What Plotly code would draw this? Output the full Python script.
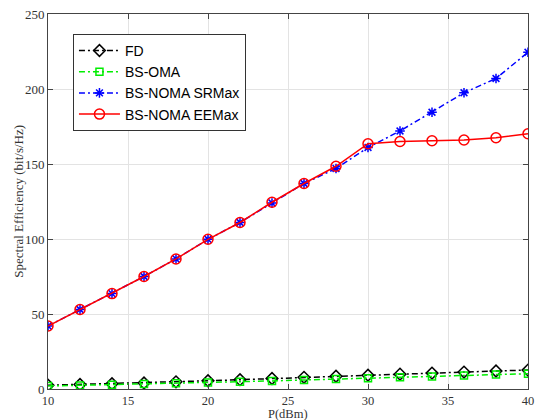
import plotly.graph_objects as go

p_dbm = [10, 12, 14, 16, 18, 20, 22, 24, 26, 28, 30, 32, 34, 36, 38, 40]
fd = [2.5, 3.0, 3.5, 4.0, 4.8, 5.5, 6.2, 7.0, 7.8, 8.5, 9.2, 9.9, 10.6, 11.3, 12.0, 12.6]
bs_oma = [2.0, 2.4, 2.8, 3.3, 3.8, 4.3, 4.9, 5.4, 6.0, 6.6, 7.2, 7.8, 8.4, 9.0, 9.6, 10.2]
srmax = [42, 53, 63.6, 75, 86.7, 99.8, 111, 124, 137, 147, 161, 172, 184.5, 197.5, 207, 224.5]
eemax = [42, 53, 63.6, 75, 86.7, 99.8, 111, 124.5, 137, 148.5, 163.5, 165, 165.5, 166, 167.5, 170.2]

x_title = "P(dBm)"
y_title = "Spectral Efficiency (bit/s/Hz)"

series = [
    ("FD", fd, "black", "6px,3px,2px,3px", "diamond-open", 9),
    ("BS-OMA", bs_oma, "#00ee00", "6px,3px,2px,3px", "square-open", 7),
    ("BS-NOMA SRMax", srmax, "blue", "6px,3px,2px,3px", "asterisk-open", 8),
    ("BS-NOMA EEMax", eemax, "red", "solid", "circle-open", 10),
]

fig = go.Figure()
for name, ys, color, dash, sym, size in series:
    fig.add_trace(go.Scatter(
        x=p_dbm, y=ys, name=name, mode="lines+markers",
        line=dict(color=color, dash=dash, width=1.5),
        marker=dict(symbol=sym, size=size, color=color,
                    line=dict(color=color, width=1.5)),
    ))

axis_common = dict(
    showline=True, linecolor="#444", linewidth=1, mirror="ticks",
    ticks="inside", ticklen=5, tickcolor="#444",
    showgrid=True, gridcolor="#e3e3e3", gridwidth=1, zeroline=False,
    automargin=False,
)

fig.update_layout(
    width=535, height=420,
    margin=dict(l=48, r=7, t=14, b=31),
    plot_bgcolor="white", paper_bgcolor="white",
    xaxis=dict(range=[10, 40], tickvals=[10, 15, 20, 25, 30, 35, 40],
               tickfont=dict(family="Liberation Serif", size=12.5, color="#333"),
               **axis_common),
    yaxis=dict(range=[0, 250], tickvals=[0, 50, 100, 150, 200, 250],
               tickfont=dict(family="Liberation Serif", size=13, color="#333"),
               **axis_common),
    legend=dict(x=0.052, y=0.947, xanchor="left", yanchor="top",
                bgcolor="white", bordercolor="#333", borderwidth=1,
                font=dict(family="Liberation Sans", size=14, color="black"),
                tracegroupgap=0, itemwidth=41),
    showlegend=True,
    annotations=[
        dict(text=x_title, xref="paper", yref="paper", x=0.5, y=-0.066,
             xanchor="center", yanchor="middle", showarrow=False, borderpad=0,
             font=dict(family="Liberation Serif", size=12.5, color="#333")),
        dict(text=y_title, xref="paper", yref="paper", x=-0.062, y=0.5,
             xanchor="center", yanchor="middle", textangle=-90, showarrow=False,
             font=dict(family="Liberation Serif", size=13, color="#333")),
    ],
)

fig.write_html("out.html", config={"displayModeBar": False},
               post_script="document.body.style.margin='0';")
